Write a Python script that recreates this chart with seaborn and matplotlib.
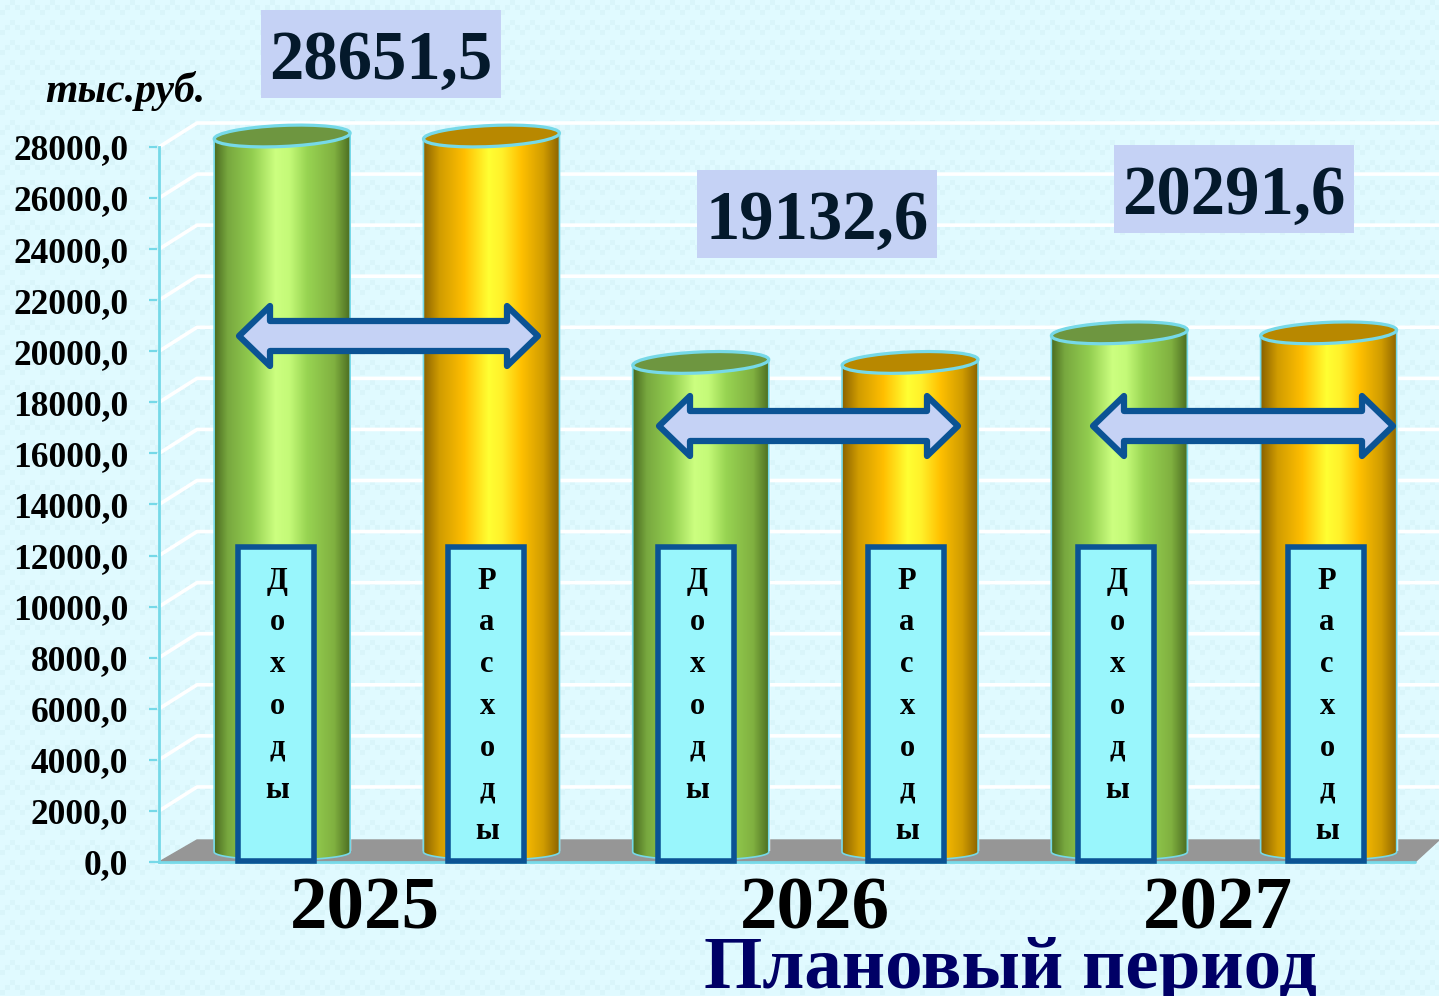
import numpy as np
import pandas as pd
import matplotlib
matplotlib.use("Agg")
import matplotlib.pyplot as plt
import seaborn as sns
from matplotlib.colors import LinearSegmentedColormap
from matplotlib.patches import Ellipse, PathPatch, Polygon, Rectangle
from matplotlib.path import Path

# chart data
years = ["2025", "2026", "2027"]
series_names = ["Доходы", "Расходы"]
income = [28651.5, 19132.6, 20291.6]
expense = [28651.5, 19132.6, 20291.6]
axis_ticks = list(range(0, 28001, 2000))
unit_label = "тыс.руб."
period_label = "Плановый период"

W, H = 1439, 996
SERIF = "Liberation Serif"
EDGE = "#0B5394"
CYAN = "#76D9E8"
LILAC = "#C5D2F5"

sns.set_style("white")
plt.rcParams["font.family"] = SERIF


def px_axes(fig, x0, y0, x1, y1, **kw):
    """Axes from a pixel box, y counted from the top of the picture."""
    return fig.add_axes([x0 / W, 1 - y1 / H, (x1 - x0) / W, (y1 - y0) / H], **kw)


fig = plt.figure(figsize=(W / 100, H / 100), dpi=100)

# textured background, small blocks in a zigzag
bg_ax = px_axes(fig, 0, 0, W, H, zorder=0)
yy, xx = np.mgrid[0:H, 0:W]
zig = np.abs(xx // 5 % 4 - 2)
weave = ((yy // 5 - zig) % 4 < 1).astype(float)
bg_cmap = LinearSegmentedColormap.from_list("bg", ["#E0FAFF", "#D9F5FA"])
bg_ax.imshow(weave, cmap=bg_cmap, aspect="auto", interpolation="nearest")
bg_ax.axis("off")

# front axes: scale, back grid and floor
ax = px_axes(fig, 159, 147, W, 862, zorder=1)
ax.patch.set_visible(False)
ax.set_xlim(159, W)
ax.set_ylim(0, 28000)
per_px = 28000 / 715
back = 24 * per_px
for t in axis_ticks[1:]:
    ax.plot([159, 197, W], [t, t + back, t + back], color="white", lw=2.6, clip_on=False, zorder=1)
ax.fill([159, 197, W, 1415], [0, 22 * per_px, 22 * per_px, 0], color="#969696", clip_on=False, zorder=2)
ax.plot([159, 1415], [0, 0], color=CYAN, lw=2, clip_on=False, zorder=3)
ax.set_yticks(axis_ticks, [f"{t},0" for t in axis_ticks])
ax.set_xticks([])
ax.tick_params(axis="y", length=7, width=1.6, color=CYAN, pad=15, left=True)
for lab in ax.get_yticklabels():
    lab.set_fontsize(25.5)
    lab.set_fontweight("bold")
    lab.set_color("black")
for name, sp in ax.spines.items():
    sp.set_visible(name == "left")
ax.spines["left"].set_color(CYAN)
ax.spines["left"].set_linewidth(2)

# the bars themselves, on a scale lifted half way into the depth of the floor
df = pd.DataFrame({
    "year": years * 2,
    "series": [series_names[0]] * 3 + [series_names[1]] * 3,
    "value": income + expense,
})
bar_ax = px_axes(fig, 159, 136, W, 851, zorder=2)
bar_ax.patch.set_visible(False)
sns.barplot(data=df, x="year", y="value", hue="series", ax=bar_ax, width=1.0, gap=0.35,
            palette=["#8FCA4C", "#FFC000"], legend=False)
bar_ax.set_xlim((159 - 386.8) / 418.6, (W - 386.8) / 418.6)
bar_ax.set_ylim(0, 28000)
bar_ax.axis("off")

# overlay in picture pixels for cylinders, boxes and captions
top = px_axes(fig, 0, 0, W, H, zorder=3)
top.patch.set_visible(False)
top.set_xlim(0, W)
top.set_ylim(H, 0)
top.axis("off")

green = LinearSegmentedColormap.from_list("green", [
    (0, "#4A6B20"), (0.1, "#78A83F"), (0.28, "#93CE50"), (0.45, "#CCFF80"),
    (0.55, "#C4FA78"), (0.68, "#98D452"), (0.88, "#80B040"), (1, "#4A6B20")])
orange = LinearSegmentedColormap.from_list("orange", [
    (0, "#8A6200"), (0.12, "#D09C00"), (0.3, "#FFBE00"), (0.48, "#FFFF33"),
    (0.58, "#FFF02A"), (0.72, "#FFC000"), (0.88, "#D09C00"), (1, "#8A6200")])
styles = [(green, "#6E9640"), (orange, "#B88800")]
grad = np.linspace(0, 1, 256)[None, :]


def to_px(x, y):
    return top.transData.inverted().transform(bar_ax.transData.transform((x, y)))


for container, (cmap, cap) in zip(bar_ax.containers, styles):
    for bar in container:
        left, yc = to_px(bar.get_x(), min(bar.get_height(), 28000))
        right, yb = to_px(bar.get_x() + bar.get_width(), 0)
        mid = (left + right) / 2
        arc = np.linspace(0, np.pi, 40)
        verts = [(left, yc + 3), (right, yc - 3)]
        verts += list(zip(mid + (right - left) / 2 * np.cos(arc), yb + 1 + 8 * np.sin(arc)))
        body = PathPatch(Path(verts + [verts[0]], closed=True), fc="none", ec=CYAN, lw=1.2, zorder=2)
        top.add_patch(body)
        im = top.imshow(grad, cmap=cmap, extent=(left, right, yb + 10, yc - 4), aspect="auto", zorder=1)
        im.set_clip_path(body)
        top.add_patch(Ellipse((mid, yc), right - left, 21, angle=-2.5, fc=cap, ec=CYAN, lw=2.3, zorder=3))
top.set_xlim(0, W)
top.set_ylim(H, 0)

# vertical captions on the bars
for g in range(len(years)):
    for s, word in enumerate(series_names):
        box_left = 238 + 420 * g + 210 * s
        top.add_patch(Rectangle((box_left, 547), 76, 314, fc="#99F6FC", ec=EDGE, lw=4, zorder=4))
        for k, ch in enumerate(word):
            top.text(box_left + 39, 581 + k * 41.8, ch, ha="center", va="center", fontsize=22,
                     fontweight="bold", color="black", zorder=5)


def double_arrow(x0, x1, yc):
    head, hh, sh = 31, 30, 15
    pts = [(x0, yc), (x0 + head, yc - hh), (x0 + head, yc - sh), (x1 - head, yc - sh),
           (x1 - head, yc - hh), (x1, yc), (x1 - head, yc + hh), (x1 - head, yc + sh),
           (x0 + head, yc + sh), (x0 + head, yc + hh)]
    top.add_patch(Polygon(pts, closed=True, fc=LILAC, ec=EDGE, lw=4.5, joinstyle="round", zorder=6))


double_arrow(239, 538, 336)
double_arrow(659, 958, 426)
double_arrow(1093, 1393, 426)

# value badges above the bars
badge_boxes = [(261, 10), (697, 170), (1114, 145)]
for (bx, by), val in zip(badge_boxes, income):
    top.add_patch(Rectangle((bx, by), 240, 88, fc=LILAC, ec="none", zorder=6))
    top.text(bx + 120, by + 69, f"{val:.1f}".replace(".", ","), ha="center", va="baseline",
             fontsize=49.5, fontweight="bold", color="#04192B", zorder=7)

# year and period captions
for xpos, year in zip([365, 815, 1218], years):
    top.text(xpos, 928, year, ha="center", va="baseline", fontsize=54, fontweight="bold", color="black", zorder=7)
top.text(1010, 988, period_label, ha="center", va="baseline", fontsize=54, fontweight="bold",
         color="#000066", zorder=7, clip_on=False)
top.text(125, 102, unit_label, ha="center", va="baseline", fontsize=30, fontweight="bold",
         fontstyle="italic", color="black", zorder=7)

fig.savefig("out.png", dpi=100)
